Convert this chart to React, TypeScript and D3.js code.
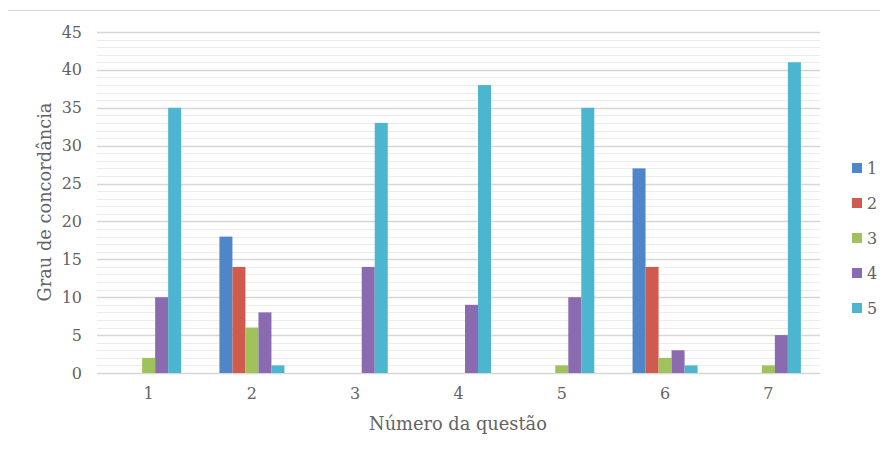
import React from "react";
import * as d3 from "d3";

const questions = ["1", "2", "3", "4", "5", "6", "7"];
const seriesNames = ["1", "2", "3", "4", "5"];
const s1 = [0, 18, 0, 0, 0, 27, 0];
const s2 = [0, 14, 0, 0, 0, 14, 0];
const s3 = [2, 6, 0, 0, 1, 2, 1];
const s4 = [10, 8, 14, 9, 10, 3, 5];
const s5 = [35, 1, 33, 38, 35, 1, 41];
const colors = ["#4f86c9", "#cf5a4e", "#9fc25a", "#8a6bb0", "#4cb5d0"];
const yTicks = [0, 5, 10, 15, 20, 25, 30, 35, 40, 45];

const W = 886;
const H = 453;
const M = { left: 97, right: 820, top: 32, bottom: 373 };
const FONT = "'DejaVu Serif', 'Liberation Serif', serif";
const TEXT = "#636363";

export default function App() {
  const series = [s1, s2, s3, s4, s5];
  const x = d3.scaleBand<string>().domain(questions).range([M.left, M.right]);
  const inner = d3
    .scaleBand<string>()
    .domain(seriesNames)
    .range([0, x.bandwidth()])
    .paddingInner(0)
    .paddingOuter(1.47);
  const y = d3.scaleLinear().domain([0, 45]).range([M.bottom, M.top]);
  const minor = d3.range(0, 46);

  return (
    <svg
      width={W}
      height={H}
      style={{ position: "absolute", left: 0, top: 0, background: "#fff" }}
    >
      <line x1={8} x2={880} y1={10.5} y2={10.5} stroke="#d8d8d8" />
      {minor.map((v) => (
        <line
          key={"m" + v}
          x1={M.left}
          x2={M.right}
          y1={Math.round(y(v)) + 0.5}
          y2={Math.round(y(v)) + 0.5}
          stroke={v % 5 === 0 ? "#d6d6d6" : "#ececec"}
          strokeWidth={v % 5 === 0 ? 1.3 : 1}
        />
      ))}
      {series.map((vals, si) =>
        questions.map((q, qi) => {
          const v = vals[qi];
          if (!v) return null;
          return (
            <rect
              key={si + "-" + q}
              x={(x(q) as number) + (inner(seriesNames[si]) as number)}
              y={y(v)}
              width={inner.bandwidth()}
              height={y(0) - y(v)}
              fill={colors[si]}
            />
          );
        })
      )}
      {yTicks.map((t) => (
        <text
          key={"y" + t}
          x={82}
          y={y(t)}
          dy="0.35em"
          textAnchor="end"
          fontFamily={FONT}
          fontSize={16}
          fill={TEXT}
        >
          {t}
        </text>
      ))}
      {questions.map((q) => (
        <text
          key={"x" + q}
          x={(x(q) as number) + x.bandwidth() / 2}
          y={399}
          textAnchor="middle"
          fontFamily={FONT}
          fontSize={16}
          fill={TEXT}
        >
          {q}
        </text>
      ))}
      <text
        x={458}
        y={430}
        textAnchor="middle"
        fontFamily={FONT}
        fontSize={17.8}
        fill={TEXT}
      >
        Número da questão
      </text>
      <text
        transform={`translate(51, 202) rotate(-90)`}
        textAnchor="middle"
        fontFamily={FONT}
        fontSize={17.8}
        fill={TEXT}
      >
        Grau de concordância
      </text>
      {seriesNames.map((n, i) => (
        <g key={"l" + n} transform={`translate(852, ${168 + i * 35})`}>
          <rect x={0} y={-5} width={10} height={10} fill={colors[i]} />
          <text
            x={15}
            y={0}
            dy="0.35em"
            fontFamily={FONT}
            fontSize={16}
            fill={TEXT}
          >
            {n}
          </text>
        </g>
      ))}
    </svg>
  );
}
